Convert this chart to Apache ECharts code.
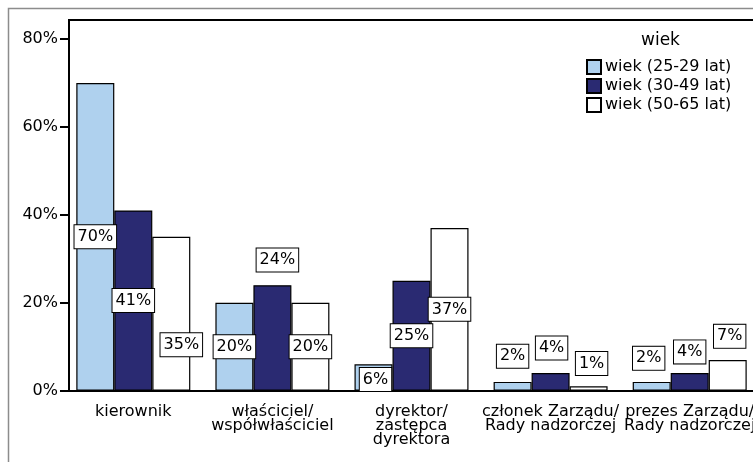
<!DOCTYPE html>
<html>
<head>
<meta charset="utf-8">
<script src="https://cdn.jsdelivr.net/npm/echarts@6/dist/echarts.min.js"></script>
<style>
  html, body { margin: 0; padding: 0; background: #fff; }
  #chart { width: 753px; height: 462px; }
</style>
</head>
<body>
<div id="chart"></div>
<script>
// Stanowisko wg wieku respondentów (odsetek w grupie wiekowej)
const categories = [
  'kierownik',
  'właściciel/\nwspółwłaściciel',
  'dyrektor/\nzastępca\ndyrektora',
  'członek Zarządu/\nRady nadzorczej',
  'prezes Zarządu/\nRady nadzorczej'
];
const seriesNames = ['wiek (25-29 lat)', 'wiek (30-49 lat)', 'wiek (50-65 lat)'];
const age25to29 = [70, 20, 6, 2, 2];
const age30to49 = [41, 24, 25, 4, 4];
const age50to65 = [35, 20, 37, 1, 7];
const yTicks = [0, 20, 40, 60, 80];

// label nudges (px) so value boxes do not collide
const labelNudge = [
  [[0, 0], [0, 0], [2, 2], [0, -30], [-3, -28]],
  [[0, 0], [5, -78], [0, 0], [1, -34], [0, -30]],
  [[10, 31], [0, 0], [0, 0], [3, -25], [2, -39]]
];

const colors = ['#afd1ee', '#2a2a72', '#ffffff'];
const FONT = 'DejaVu Sans';

function buildData(values, nudges) {
  return values.map((v, i) => ({
    value: v,
    label: { offset: nudges[i] }
  }));
}

const seriesValues = [age25to29, age30to49, age50to65];

const chart = echarts.init(document.getElementById('chart'), null, { renderer: 'canvas' });

chart.setOption({
  animation: false,
  backgroundColor: '#ffffff',
  textStyle: { fontFamily: FONT, color: '#000' },
  title: {
    text: 'wiek',
    left: 636,
    top: 27,
    textStyle: { fontFamily: FONT, fontSize: 17, fontWeight: 'normal', color: '#000' }
  },
  legend: {
    data: seriesNames,
    orient: 'vertical',
    left: 581,
    top: 54,
    itemGap: 3,
    itemWidth: 14,
    itemHeight: 14,
    icon: 'rect',
    textStyle: { fontFamily: FONT, fontSize: 16, color: '#000', padding: [0, 0, 0, -1] }
  },
  grid: {
    left: 63.75,
    width: 695.5,
    top: 39,
    bottom: 71.3,
    containLabel: false,
    outerBoundsMode: 'none'
  },
  xAxis: {
    type: 'category',
    data: categories,
    axisLine: { lineStyle: { color: '#000', width: 2 } },
    axisTick: { alignWithLabel: true, interval: 0, length: 9, lineStyle: { color: '#000', width: 2 } },
    axisLabel: {
      interval: 0,
      hideOverlap: false,
      margin: 14,
      fontFamily: FONT,
      fontSize: 16,
      lineHeight: 14,
      color: '#000'
    },
    splitLine: { show: false }
  },
  yAxis: {
    type: 'value',
    min: yTicks[0],
    max: yTicks[yTicks.length - 1],
    interval: 20,
    offset: -5.25,
    axisLine: { show: false },
    axisTick: { show: true, length: 9, lineStyle: { color: '#000', width: 2 } },
    axisLabel: {
      margin: 11,
      fontFamily: FONT,
      fontSize: 16,
      color: '#000',
      formatter: v => v + '%'
    },
    splitLine: { show: false }
  },
  series: seriesValues.map((vals, s) => ({
    name: seriesNames[s],
    type: 'bar',
    data: buildData(vals, labelNudge[s]),
    barWidth: 38,
    barGap: '0%',
    itemStyle: { color: colors[s], borderColor: '#000', borderWidth: 1.2 },
    label: {
      show: true,
      position: 'inside',
      formatter: p => p.value + '%',
      fontFamily: FONT,
      fontSize: 16,
      lineHeight: 16,
      color: '#000',
      backgroundColor: '#fff',
      borderColor: '#000',
      borderWidth: 1,
      padding: [4, 3, 3, 3]
    }
  })),
  graphic: [
    {
      type: 'rect',
      silent: true,
      shape: { x: 8.5, y: 8.5, width: 900, height: 600 },
      style: { fill: null, stroke: '#8c8c8c', lineWidth: 1.5 }
    },
    {
      type: 'polyline',
      silent: true,
      z: 10,
      shape: { points: [[69, 391], [69, 20], [760, 20]] },
      style: { fill: null, stroke: '#000', lineWidth: 2 }
    }
  ]
});
</script>
</body>
</html>
